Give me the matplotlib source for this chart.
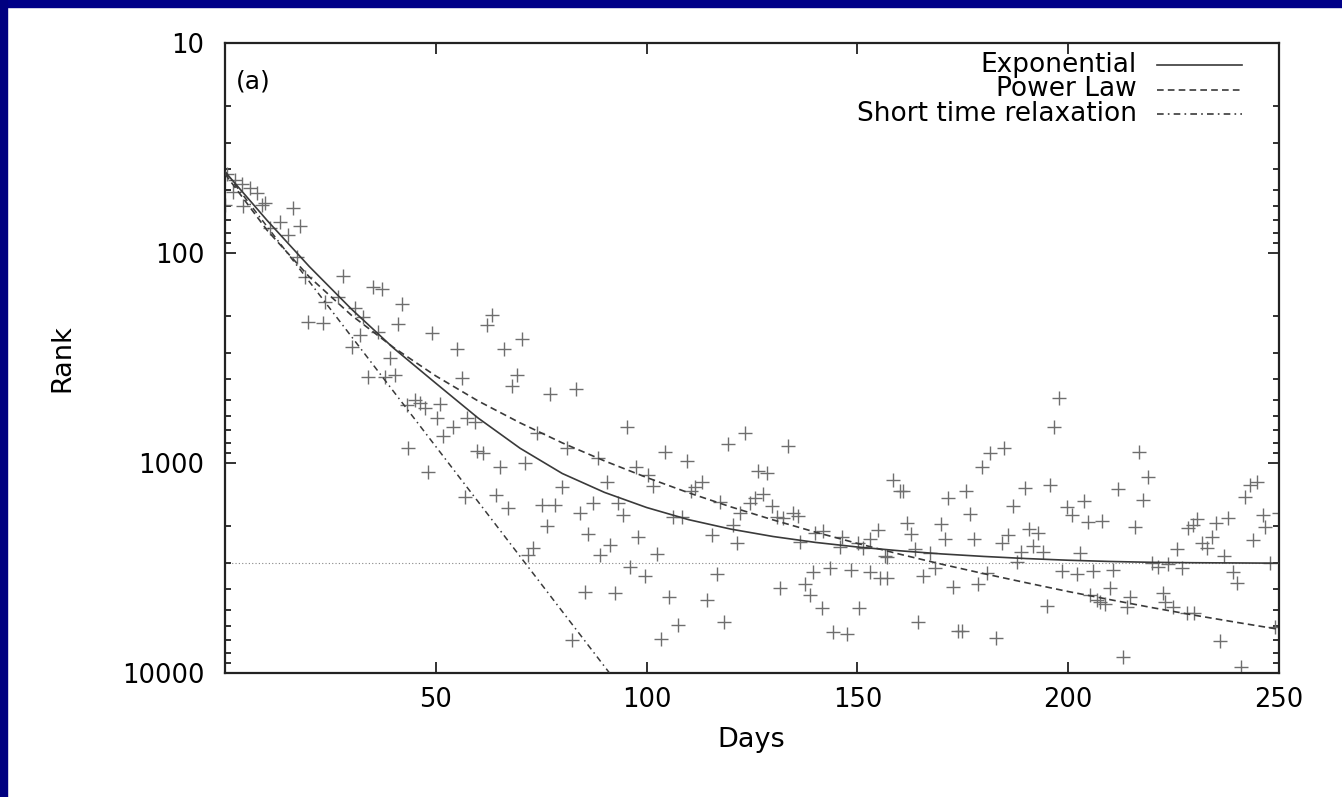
import matplotlib
matplotlib.use("Agg")
import matplotlib.pyplot as plt
from matplotlib.patches import Rectangle
from matplotlib.lines import Line2D
from matplotlib.ticker import LogLocator, NullFormatter, FixedLocator, FixedFormatter

plt.rcParams['font.family'] = ['DejaVu Sans']

# ---------------- data ----------------
days = [
    0, 0.5, 2.4, 4.0, 5.9, 7.6, 1.9, 4.3, 8.8, 9.5, 16.1, 13.0, 17.8, 14.9, 10.7,
    17.1, 19.0, 28.0, 35.1, 37.2, 26.8, 23.7, 30.8, 32.7, 36.3, 42.0, 41.0, 19.7,
    23.2, 32.0, 30.1, 39.1, 33.9, 38.0, 40.3, 43.2, 43.4, 63.3, 62.1, 49.1, 70.4,
    55.0, 66.2, 69.3, 68.1, 56.2, 77.1, 83.3, 45.1, 46.3, 47.4, 51.0, 50.3, 57.4,
    59.3, 54.1, 51.7, 59.8, 61.2, 48.1, 65.2, 71.2, 74.0, 81.1, 88.5, 95.4, 97.5,
    90.6, 79.9, 56.9, 64.3, 67.1, 75.2, 78.3, 84.2, 87.3, 93.2, 94.4, 76.4, 86.1,
    91.3, 88.9, 98.0, 73.1, 71.9, 96.1, 99.6, 85.4, 92.5, 82.3,
    123.3, 119.3, 133.5, 104.4, 109.6, 126.4, 128.6, 100.3, 101.5, 113.1,
    111.5, 110.5, 117.4, 127.6, 125.7, 124.5, 129.7, 122.2, 130.9, 134.7,
    135.9, 132.4, 106.3, 108.4, 120.5, 115.5, 121.4, 139.9, 141.8, 146.3,
    154.9, 153.0, 150.1, 151.3, 145.9, 136.4, 102.5, 157.0, 116.7, 139.5,
    143.5, 148.5, 153.0, 157.0, 137.6, 138.8, 131.6, 141.6, 150.4, 105.3,
    114.3, 107.4, 118.4, 103.4, 144.2, 147.5,
    197.8, 196.6, 184.8, 181.5, 179.6, 158.4, 160.1, 160.8, 175.8, 171.5,
    189.8, 195.7, 186.9, 176.7, 199.7, 200.9, 203.7, 204.7, 161.8, 169.8,
    162.7, 170.8, 177.7, 185.7, 184.3, 190.7, 192.8, 191.7, 194.0, 188.8,
    187.9, 163.7, 167.2, 156.5, 168.4, 202.8, 198.5, 202.1, 205.9, 180.7,
    155.4, 165.6, 172.7, 178.6, 195.0, 206.8, 164.4, 173.9, 174.8, 182.9,
    216.8, 218.9, 211.8, 217.7, 208.0, 215.8, 244.8, 243.1, 241.9, 246.2,
    246.7, 250.0, 243.8, 237.9, 235.1, 230.6, 228.4, 229.6, 234.1, 231.7,
    232.9, 225.8, 237.0, 247.9, 219.9, 221.3, 223.7, 227.0, 210.6, 239.1,
    240.0, 209.9, 205.2, 207.5, 208.7, 214.7, 213.9, 222.5, 223.0, 224.9,
    228.2, 229.8, 249.0, 236.0, 213.0, 241.0,
]
ranks = [
    59, 42, 45, 47, 49, 52, 51, 60, 59, 58, 61, 71, 74, 82, 76,
    104, 130, 129, 145, 148, 162, 171, 183, 202, 238, 175, 218, 213,
    215, 246, 280, 316, 389, 389, 381, 530, 849, 197, 220, 240, 257,
    286, 286, 381, 430, 394, 469, 444, 501, 518, 547, 524, 611, 611,
    638, 674, 743, 877, 896, 1104, 1045, 1000, 720, 849, 947, 674, 1045,
    1231, 1301, 1452, 1420, 1638, 1585, 1585, 1730, 1550, 1550, 1770, 1995, 2178,
    2456, 2742, 2251, 2540, 2742, 3128, 3453, 4113, 4159, 6966,
    720, 812, 830, 887, 978, 1091, 1116, 1140, 1288, 1231,
    1301, 1359, 1534, 1406, 1468, 1550, 1603, 1730, 1808, 1730,
    1788, 1828, 1808, 1808, 1973, 2203, 2404, 2153, 2108, 2251,
    2084, 2301, 2404, 2540, 2512, 2377, 2713, 2804, 3378, 3304,
    3162, 3234, 3304, 3528, 3767, 4254, 3938, 4900, 4900, 4347,
    4490, 5907, 5715, 6887, 6380, 6520,
    490, 674, 849, 896, 1045, 1205, 1359, 1359, 1359, 1468,
    1315, 1273, 1603, 1749, 1621, 1770, 1517, 1909, 1931, 1953,
    2178, 2301, 2301, 2203, 2404, 2062, 2153, 2484, 2654, 2654,
    2961, 2568, 2683, 2773, 3162, 2683, 3268, 3378, 3268, 3342,
    3528, 3453, 3892, 3767, 4797, 4490, 5715, 6310, 6310, 6813,
    887, 1166, 1330, 1500, 1888, 2017, 1231, 1273, 1452, 1770,
    2017, 1730, 2328, 1828, 1931, 1849, 2040, 1973, 2251, 2404,
    2540, 2568, 2773, 2994, 2994, 3128, 3027, 3162, 3234, 3304,
    3726, 3938, 4254, 4590, 4694, 4347, 4853, 4159, 4590, 4853,
    5176, 5176, 6040, 7047, 8395, 9354,
]

curve_days = [0, 10, 20, 30, 40, 50, 60, 70, 80, 90, 100, 110, 120, 130, 140,
              150, 160, 170, 180, 190, 200, 210, 220, 230, 240, 250]
exp_ranks = [41, 70, 116, 185, 284, 417, 610, 851, 1122, 1380, 1629, 1862, 2065,
             2239, 2388, 2512, 2618, 2710, 2786, 2851, 2904, 2944, 2972, 2985, 2992, 2999]
power_ranks = [42, 78, 130, 198, 282, 385, 506, 644, 802, 977, 1172, 1387, 1618,
               1866, 2133, 2415, 2716, 3034, 3365, 3715, 4093, 4477, 4887, 5309, 5741, 6194]
short_days = [0, 91.2]
short_ranks = [41, 10000]
baseline_rank = 3000

labels = ['Exponential', 'Power Law', 'Short time relaxation']
ytick_vals = [10, 100, 1000, 10000]
ytick_labels = ['10', '100', '1000', '10000']
xtick_vals = [50, 100, 150, 200, 250]

assert len(days) == len(ranks)

# ---------------- figure ----------------
W, H = 1342, 797
fig = plt.figure(figsize=(W / 100, H / 100), dpi=100, facecolor='white')
L, R, T, B = 225, 1279, 43, 673
ax = fig.add_axes([L / W, 1 - B / H, (R - L) / W, (B - T) / H])

ax.set_yscale('log')
ax.set_xlim(0, 250)
ax.set_ylim(10000, 10)

grey = '#6e6e6e'
ax.plot(days, ranks, linestyle='none', marker='+', ms=9.5, mew=1.0, color=grey, zorder=2)

ax.axhline(baseline_rank, color='#888888', lw=0.8, linestyle=(0, (1, 2)), zorder=1)
ls_solid = '-'
ls_dash = (0, (4, 2.5))
ls_dashdot = (0, (4, 2.5, 1, 2.5))
line_color = '#3a3a3a'
ax.plot(curve_days, exp_ranks, ls_solid, color=line_color, lw=1.2, zorder=3)
ax.plot(curve_days, power_ranks, linestyle=ls_dash, color=line_color, lw=1.2, zorder=3)
ax.plot(short_days, short_ranks, linestyle=ls_dashdot, color=line_color, lw=1.1, zorder=3)

# ticks
ax.yaxis.set_major_locator(FixedLocator(ytick_vals))
ax.yaxis.set_major_formatter(FixedFormatter(ytick_labels))
ax.yaxis.set_minor_locator(LogLocator(base=10, subs=range(2, 10)))
ax.yaxis.set_minor_formatter(NullFormatter())
ax.set_xticks(xtick_vals)
ax.set_xticklabels([str(v) for v in xtick_vals])
ax.tick_params(which='both', direction='in', top=True, right=True,
               colors='#222222', labelcolor='black', width=1.3)
ax.tick_params(which='major', length=8, labelsize=18.5)
ax.tick_params(which='minor', length=4)
ax.tick_params(axis='y', pad=15)
ax.tick_params(axis='x', pad=10)
for s in ax.spines.values():
    s.set_linewidth(1.6)
    s.set_color('#222222')

# axis titles
fig.text(62 / W, 1 - 358 / H, 'Rank', rotation=90, ha='center', va='center', fontsize=19.5)
fig.text(751 / W, 1 - 740 / H, 'Days', ha='center', va='center', fontsize=19.5)

# panel label
fig.text(236 / W, 1 - 81 / H, '(a)', ha='left', va='center', fontsize=18)

# legend (manual)
styles = [ls_solid, ls_dash, ls_dashdot]
for i, (lab, st) in enumerate(zip(labels, styles)):
    py = 65 + 24.5 * i
    fig.text(1137 / W, 1 - py / H, lab, ha='right', va='center', fontsize=19)
    fig.add_artist(Line2D([1157 / W, 1242 / W], [1 - py / H, 1 - py / H],
                          transform=fig.transFigure, color=line_color, lw=1.2, linestyle=st))

# navy frame
fig.add_artist(Rectangle((0, 1 - 7 / H), 1, 7 / H, transform=fig.transFigure,
                         color='#000088', zorder=10))
fig.add_artist(Rectangle((0, 0), 7 / W, 1, transform=fig.transFigure,
                         color='#000080', zorder=10))

fig.savefig('out.png', dpi=100, facecolor='white')
